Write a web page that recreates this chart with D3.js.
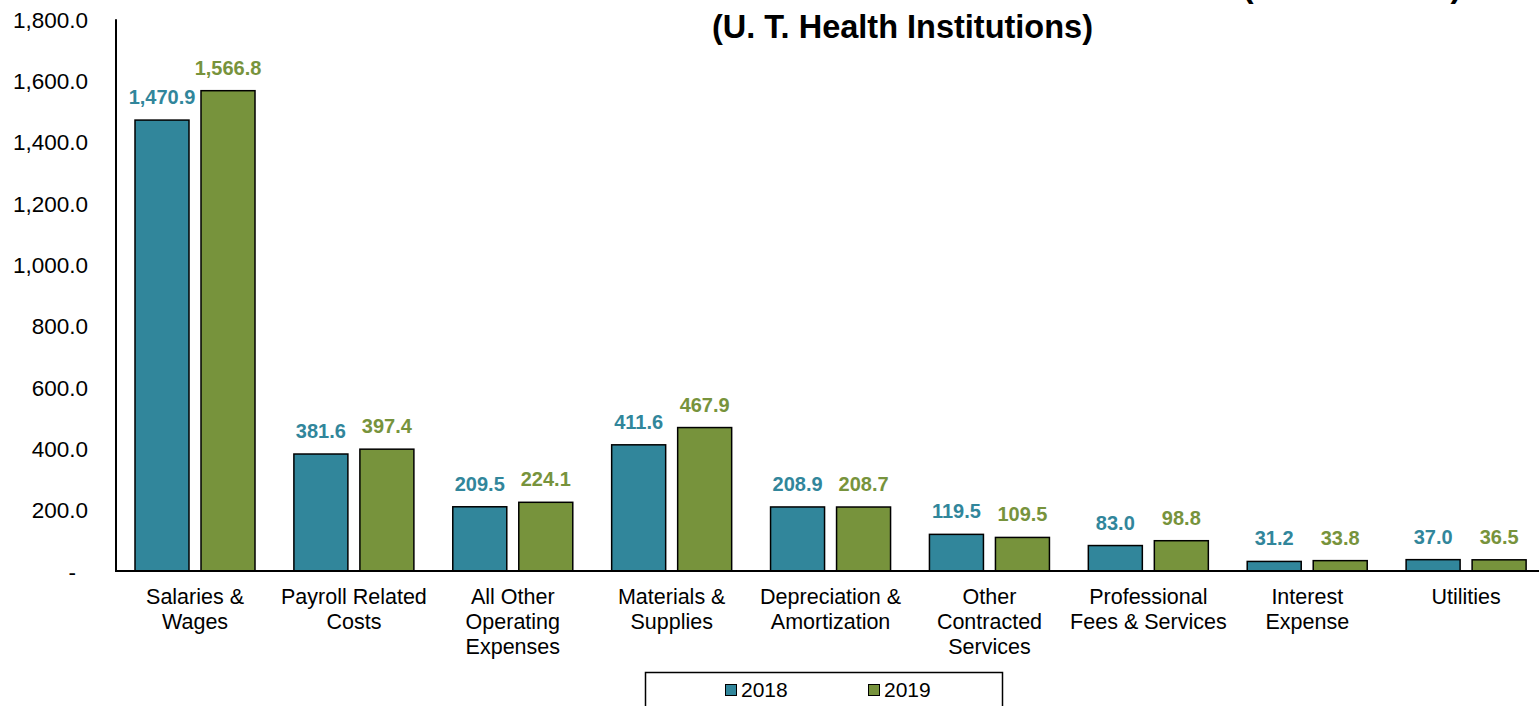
<!DOCTYPE html>
<html>
<head>
<meta charset="utf-8">
<script src="https://cdn.jsdelivr.net/npm/d3@7"></script>
<style>
  html, body { margin: 0; padding: 0; background: #fff; }
  svg { display: block; font-family: "Liberation Sans", Arial, sans-serif; }
</style>
</head>
<body>
<svg id="chart" width="1539" height="706"></svg>
<script>
// chart data
const categories = [
  ["Salaries &", "Wages"],
  ["Payroll Related", "Costs"],
  ["All Other", "Operating", "Expenses"],
  ["Materials &", "Supplies"],
  ["Depreciation &", "Amortization"],
  ["Other", "Contracted", "Services"],
  ["Professional", "Fees & Services"],
  ["Interest", "Expense"],
  ["Utilities"]
];
const years = ["2018", "2019"];
const values2018 = [1470.9, 381.6, 209.5, 411.6, 208.9, 119.5, 83.0, 31.2, 37.0];
const values2019 = [1566.8, 397.4, 224.1, 467.9, 208.7, 109.5, 98.8, 33.8, 36.5];
const yTicks = [0, 200, 400, 600, 800, 1000, 1200, 1400, 1600, 1800];
const titleLines = ["OPERATING EXPENSES BY NATURAL CLASSIFICATION (IN MILLIONS)", "(U. T. Health Institutions)"];

const colors = { "2018": "#31869b", "2019": "#77933c" };

function init() {
    const svg = d3.select("#chart");

    const x0 = d3.scaleBand()
        .domain(d3.range(categories.length))
        .range([115.6, 1545.6])
        .padding(0);

    const x1 = d3.scaleBand()
        .domain(years)
        .range([19.4, 139.4])
        .paddingInner(12 / 66);

    const y = d3.scaleLinear()
        .domain([0, 1800])
        .range([571, 19.2]);

    const fmt = d3.format(",.1f");

    // title (first line mostly off the top of the picture)
    svg.selectAll("text.title")
        .data(titleLines)
        .enter()
        .append("text")
        .attr("class", "title")
        .attr("x", (d, i) => i === 0 ? 912 : 902.5)
        .attr("y", (d, i) => i === 0 ? -3 : 37.5)
        .attr("text-anchor", "middle")
        .attr("font-weight", "bold")
        .attr("font-size", 32.5)
        .attr("fill", "#000")
        .text(d => d);

    // y axis tick labels
    const yAxis = d3.axisLeft(y)
        .tickValues(yTicks)
        .tickSize(0)
        .tickPadding(0)
        .tickFormat(d => d === 0 ? "-" : fmt(d));

    const yg = svg.append("g")
        .attr("transform", "translate(88,0)")
        .call(yAxis);
    yg.select(".domain").remove();
    yg.selectAll("text")
        .attr("font-size", 22.5)
        .attr("font-family", "'Liberation Sans', Arial, sans-serif")
        .attr("fill", "#000")
        .attr("dy", "0.36em")
        .attr("dx", d => d === 0 ? -12 : 0);

    // bars
    const rows = categories.map((c, i) => ({ i: i, vals: [values2018[i], values2019[i]] }));

    const groups = svg.selectAll("g.cat")
        .data(rows)
        .enter()
        .append("g")
        .attr("class", "cat")
        .attr("transform", d => `translate(${x0(d.i)},0)`);

    groups.selectAll("rect")
        .data(d => years.map((yr, k) => ({ yr: yr, v: d.vals[k] })))
        .enter()
        .append("rect")
        .attr("x", d => x1(d.yr))
        .attr("y", d => y(d.v))
        .attr("width", x1.bandwidth())
        .attr("height", d => y(0) - y(d.v))
        .attr("fill", d => colors[d.yr])
        .attr("stroke", "#000")
        .attr("stroke-width", 1.5);

    groups.selectAll("text.val")
        .data(d => years.map((yr, k) => ({ yr: yr, v: d.vals[k] })))
        .enter()
        .append("text")
        .attr("class", "val")
        .attr("x", d => x1(d.yr) + x1.bandwidth() / 2)
        .attr("y", d => y(d.v) - 16)
        .attr("text-anchor", "middle")
        .attr("font-weight", "bold")
        .attr("font-size", 20)
        .attr("fill", d => colors[d.yr])
        .text(d => fmt(d.v));

    // axis lines
    svg.append("line")
        .attr("x1", 116).attr("x2", 116)
        .attr("y1", y(1800)).attr("y2", y(0))
        .attr("stroke", "#000").attr("stroke-width", 2);
    svg.append("line")
        .attr("x1", 115).attr("x2", 1539)
        .attr("y1", y(0)).attr("y2", y(0))
        .attr("stroke", "#000").attr("stroke-width", 2);

    // category labels
    groups.append("text")
        .attr("text-anchor", "middle")
        .attr("font-size", 21.5)
        .attr("fill", "#000")
        .selectAll("tspan")
        .data(d => categories[d.i])
        .enter()
        .append("tspan")
        .attr("x", x0.bandwidth() / 2)
        .attr("y", (d, j) => 604 + j * 25)
        .text(d => d);

    // legend
    const legend = svg.append("g");
    legend.append("rect")
        .attr("x", 645.5).attr("y", 672.5)
        .attr("width", 357).attr("height", 50)
        .attr("fill", "#fff")
        .attr("stroke", "#000")
        .attr("stroke-width", 1.5);

    const legendX = d3.scaleOrdinal().domain(years).range([725, 868]);
    const items = legend.selectAll("g.item")
        .data(years)
        .enter()
        .append("g")
        .attr("class", "item")
        .attr("transform", d => `translate(${legendX(d)},0)`);
    items.append("rect")
        .attr("x", 0.5).attr("y", 684.5)
        .attr("width", 11).attr("height", 11)
        .attr("fill", d => colors[d])
        .attr("stroke", "#000")
        .attr("stroke-width", 1);
    items.append("text")
        .attr("x", 16)
        .attr("y", 697)
        .attr("font-size", 21)
        .attr("fill", "#000")
        .text(d => d);
}

window.onload = init;
</script>
</body>
</html>
